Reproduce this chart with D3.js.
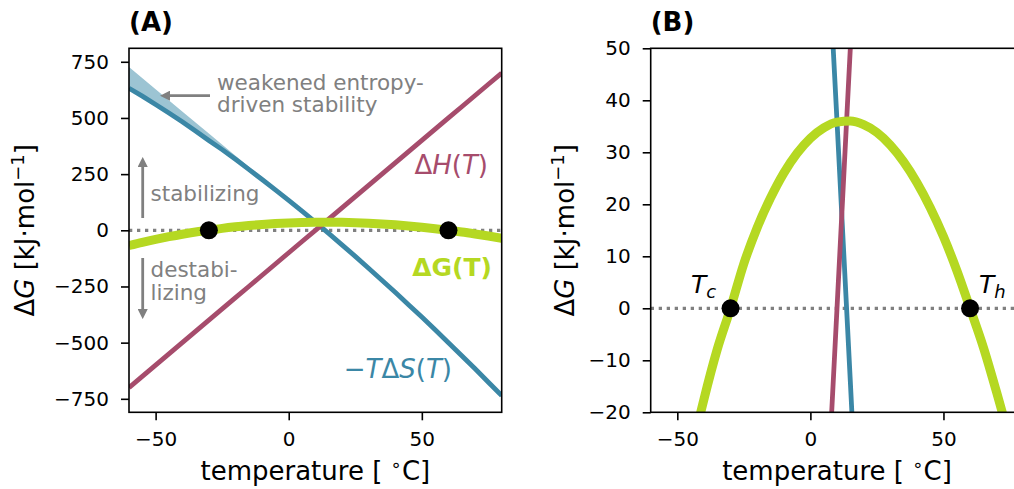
<!DOCTYPE html>
<html>
<head>
<meta charset="utf-8">
<script src="https://cdn.jsdelivr.net/npm/d3@7"></script>
<style>
  body { margin: 0; background: #fff; }
  svg text { font-family: 'DejaVu Sans', sans-serif; }
</style>
</head>
<body>
<div id="app"></div>
<script>
'use strict'

// temperature grid (deg C) and the three curves (kJ/mol)
const temps = [-60, -55, -50, -45, -40, -35, -30, -25, -20, -15, -10, -5, 0, 5, 10,
  15, 20, 25, 30, 35, 40, 45, 50, 55, 60, 65, 70, 75, 80]
const enthalpy = [-700, -650, -600, -550, -500, -450, -400, -350, -300, -250, -200, -150, -100, -50, 0,
  50, 100, 150, 200, 250, 300, 350, 400, 450, 500, 550, 600, 650, 700]
const entropyTerm = [632, 597, 560, 522, 483, 442, 400, 359, 316, 271, 226, 180, 133, 85, 36,
  -14, -65, -116, -169, -222, -276, -331, -386, -443, -500, -558, -616, -676, -736]
const freeEnergy = [-67.8, -53.5, -40.4, -28.4, -17.5, -7.9, 0, 8.6, 15.5, 21.2, 26.0, 29.8, 32.7, 34.7, 35.8,
  36.0, 35.3, 33.8, 31.4, 28.2, 24.2, 19.4, 13.8, 7.3, 0, -7.5, -16.2, -25.5, -35.5]

// shaded band above -TdS ("weakened entropy-driven stability")
const shadeTemps = [-60, -50, -40, -30, -20, -10, 0, 10]
const shadeUpper = [727, 628, 529, 431, 332, 233, 135, 36]

// cold / heat denaturation points
const meltTemps = [-30, 60]

const xTicks = [-50, 0, 50]
const yTicksA = [-750, -500, -250, 0, 250, 500, 750]
const yTicksB = [-20, -10, 0, 10, 20, 30, 40, 50]

const colH = '#a64c6c'
const colS = '#3b87a6'
const colG = '#b5d822'
const colFill = '#9cc4d3'
const grey = '#808080'

const W = 1014, H = 489
const plotTop = 48.3, plotBottom = 412.3

const svg = d3.select('#app').append('svg')
  .attr('width', W)
  .attr('height', H)

const defs = svg.append('defs')
defs.append('marker')
  .attr('id', 'arr')
  .attr('viewBox', '0 0 10 10')
  .attr('refX', 2).attr('refY', 5)
  .attr('markerWidth', 3.6).attr('markerHeight', 3.6)
  .attr('orient', 'auto')
  .append('path')
  .attr('d', 'M0,0 L10,5 L0,10 z')
  .attr('fill', grey)

const rows = temps.map((t, i) => ({ t, h: enthalpy[i], s: entropyTerm[i], g: freeEnergy[i] }))
const shade = shadeTemps.map((t, i) => ({ t, hi: shadeUpper[i], lo: entropyTerm[temps.indexOf(t)] }))

const fmt = d => d < 0 ? '\u2212' + Math.abs(d) : d

const panel = (id, left, right, yDomain, yTicks, opts) => {
  const x = d3.scaleLinear().domain([-60, 80]).range([left, right])
  const y = d3.scaleLinear().domain(yDomain).range([plotBottom, plotTop])
  const g = svg.append('g')

  defs.append('clipPath').attr('id', 'clip' + id)
    .append('rect')
    .attr('x', left).attr('y', plotTop)
    .attr('width', right - left).attr('height', plotBottom - plotTop)

  const plot = g.append('g').attr('clip-path', `url(#clip${id})`)

  if (opts.shade) {
    plot.append('path')
      .datum(shade)
      .attr('d', d3.area().x(d => x(d.t)).y0(d => y(d.lo)).y1(d => y(d.hi)))
      .attr('fill', colFill)
  }

  // zero line
  plot.append('line')
    .attr('x1', left).attr('x2', right)
    .attr('y1', y(0)).attr('y2', y(0))
    .attr('stroke', grey)
    .attr('stroke-width', 3.3)
    .attr('stroke-dasharray', '3.3,4.7')

  const line = key => d3.line().x(d => x(d.t)).y(d => y(d[key]))

  plot.append('path').datum(rows)
    .attr('d', line('s'))
    .attr('fill', 'none').attr('stroke', colS).attr('stroke-width', 4.8)
  plot.append('path').datum(rows)
    .attr('d', line('h'))
    .attr('fill', 'none').attr('stroke', colH).attr('stroke-width', 4.8)
  plot.append('path').datum(rows)
    .attr('d', line('g').curve(d3.curveMonotoneX))
    .attr('fill', 'none').attr('stroke', colG).attr('stroke-width', 9)

  plot.selectAll('.dot')
    .data(meltTemps)
    .enter().append('circle')
    .attr('cx', d => x(d))
    .attr('cy', y(0))
    .attr('r', 9)
    .attr('fill', '#000')

  // axes
  const xAxis = g.append('g')
    .attr('transform', `translate(0, ${plotBottom})`)
    .call(d3.axisBottom(x).tickValues(xTicks).tickSize(8).tickPadding(12).tickFormat(fmt))
  const yAxis = g.append('g')
    .attr('transform', `translate(${left}, 0)`)
    .call(d3.axisLeft(y).tickValues(yTicks).tickSize(8).tickPadding(12).tickFormat(fmt))
  for (const ax of [xAxis, yAxis]) {
    ax.select('.domain').remove()
    ax.selectAll('line').attr('stroke', '#000').attr('stroke-width', 1.6)
    ax.selectAll('text').attr('fill', '#000').style('font-size', '20px')
      .style('font-family', "'DejaVu Sans', sans-serif")
  }

  // frame
  g.append('rect')
    .attr('x', left).attr('y', plotTop)
    .attr('width', right - left).attr('height', plotBottom - plotTop)
    .attr('fill', 'none').attr('stroke', '#000').attr('stroke-width', 1.6)

  // axis labels
  const xl = g.append('text')
    .attr('x', (left + right) / 2).attr('y', 480)
    .attr('text-anchor', 'middle')
    .style('font-size', '26px')
  xl.append('tspan').text('temperature [ ')
  xl.append('tspan').attr('dy', -9).style('font-size', '18px').text('\u2218')
  xl.append('tspan').attr('dy', 9).text('C]')

  const yl = g.append('text')
    .attr('transform', `translate(${opts.ylabelX}, ${(plotTop + plotBottom) / 2}) rotate(-90)`)
    .attr('text-anchor', 'middle')
    .style('font-size', '26px')
  yl.append('tspan').text('\u0394')
  yl.append('tspan').style('font-style', 'italic').text('G')
  yl.append('tspan').text(' [kJ\u00b7mol')
  yl.append('tspan').attr('dy', -10).style('font-size', '18px').text('\u22121')
  yl.append('tspan').attr('dy', 10).text(']')

  g.append('text')
    .attr('x', left).attr('y', 31)
    .style('font-size', '26px').style('font-weight', 'bold')
    .text(opts.title)

  return { x, y, g }
}

/*
 * Panel A
 */
const A = panel('A', 129, 501.7, [-810, 810], yTicksA, { shade: true, ylabelX: 34, title: '(A)' })

const arrow = (x1, y1, x2, y2) => A.g.append('line')
  .attr('x1', x1).attr('x2', x2).attr('y1', y1).attr('y2', y2)
  .attr('stroke', grey).attr('stroke-width', 2.8).attr('marker-end', 'url(#arr)')
arrow(210, 95.7, 168, 95.7)
arrow(142.7, 218, 142.7, 165)
arrow(142.7, 258, 142.7, 311)

const note = (x, y, str) => A.g.append('text')
  .attr('x', x).attr('y', y).attr('fill', grey).style('font-size', '21.5px').text(str)
note(217, 90, 'weakened entropy-')
note(217, 112, 'driven stability')
note(150.5, 201, 'stabilizing')
note(150.5, 277, 'destabi-')
note(150.5, 300, 'lizing')

const hl = A.g.append('text').attr('x', 488).attr('y', 174).attr('text-anchor', 'end')
  .attr('fill', colH).style('font-size', '26px')
hl.append('tspan').text('\u0394')
hl.append('tspan').style('font-style', 'italic').text('H')
hl.append('tspan').text('(')
hl.append('tspan').style('font-style', 'italic').text('T')
hl.append('tspan').text(')')

A.g.append('text').attr('x', 492).attr('y', 276).attr('text-anchor', 'end')
  .attr('fill', colG).style('font-size', '25px').style('font-weight', 'bold')
  .text('\u0394G(T)')

const sl = A.g.append('text').attr('x', 452).attr('y', 378).attr('text-anchor', 'end')
  .attr('fill', colS).style('font-size', '26px')
sl.append('tspan').text('\u2212')
sl.append('tspan').style('font-style', 'italic').text('T')
sl.append('tspan').text('\u0394')
sl.append('tspan').style('font-style', 'italic').text('S')
sl.append('tspan').text('(')
sl.append('tspan').style('font-style', 'italic').text('T')
sl.append('tspan').text(')')

/*
 * Panel B
 */
const B = panel('B', 650.7, 1023.3, [-20, 50], yTicksB, { shade: false, ylabelX: 574, title: '(B)' })

const sub = (x, y, main, s) => {
  const t = B.g.append('text').attr('x', x).attr('y', y).style('font-size', '25px')
    .style('font-style', 'italic')
  t.append('tspan').text(main)
  t.append('tspan').attr('dy', 5).style('font-size', '18px').text(s)
}
sub(691, 293, 'T', 'c')
sub(979, 293, 'T', 'h')
</script>
</body>
</html>
